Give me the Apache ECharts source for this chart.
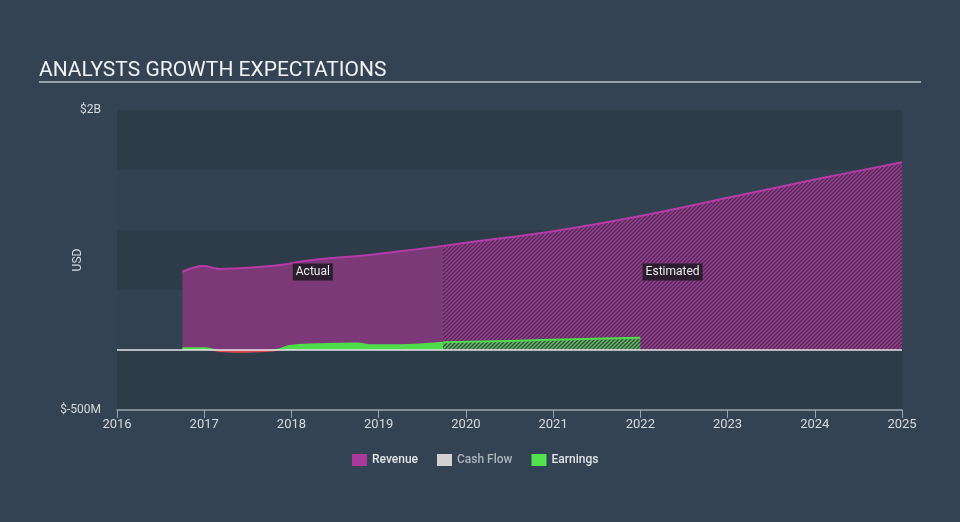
<!DOCTYPE html>
<html>
<head>
<meta charset="utf-8">
<script src="https://cdn.jsdelivr.net/npm/echarts@6/dist/echarts.min.js"></script>
<style>
html,body{margin:0;padding:0;background:#344353;}
#c{width:960px;height:522px;}
</style>
</head>
<body>
<div id="c"></div>
<script>
// ---- data ----
const titleText = 'ANALYSTS GROWTH EXPECTATIONS';
const legendNames = ['Revenue', 'Cash Flow', 'Earnings'];
const revenueActual = [
  [2016.75, 0.652], [2016.99, 0.700], [2017.18, 0.676], [2017.52, 0.686],
  [2017.87, 0.708], [2018.21, 0.748], [2018.86, 0.790], [2019.24, 0.822], [2019.74, 0.867]
];
const revenueEstimated = [
  [2019.74, 0.867], [2020.0, 0.893], [2021.0, 0.990], [2022.0, 1.117],
  [2023.0, 1.268], [2024.0, 1.420], [2025.0, 1.565]
];
const earningsActual = [
  [2016.75, 0.014], [2017.0, 0.014], [2017.18, -0.008], [2017.41, -0.014],
  [2017.71, -0.008], [2017.83, 0.0], [2017.98, 0.033], [2018.29, 0.047],
  [2018.75, 0.055], [2018.93, 0.039], [2019.24, 0.040], [2019.74, 0.061]
];
const earningsEstimated = [
  [2019.74, 0.064], [2020.5, 0.076], [2021.25, 0.089], [2022.0, 0.103]
];
const cashFlow = [];
const yearMin = 2016, yearMax = 2025;
const usdMin = -0.5, usdMax = 2;
const tickLabels = {'2': '$2B', '-0.5': '$-500M'};

// ---- patterns ----
function stripePattern(bg, fg) {
  const s = 4;
  const cv = document.createElement('canvas');
  cv.width = s; cv.height = s;
  const ctx = cv.getContext('2d');
  ctx.fillStyle = bg; ctx.fillRect(0, 0, s, s);
  ctx.strokeStyle = fg; ctx.lineWidth = 1.3;
  ctx.beginPath();
  ctx.moveTo(-1, s + 1); ctx.lineTo(s + 1, -1);
  ctx.moveTo(-1, 1); ctx.lineTo(1, -1);
  ctx.moveTo(s - 1, s + 1); ctx.lineTo(s + 1, s - 1);
  ctx.stroke();
  return {image: cv, repeat: 'repeat'};
}
const revPattern = stripePattern('#4d2d52', '#a23d99');
const earnPattern = stripePattern('#3b4b48', '#5fc65c');

const chart = echarts.init(document.getElementById('c'));
const revColor = '#b43ca6', revFill = '#7b3977';
const earnColor = '#4fdd4b', negColor = '#e2494c';

const option = {
  backgroundColor: '#344353',
  animation: false,
  textStyle: {fontFamily: 'Roboto'},
  title: {
    text: titleText, left: 34, top: 55,
    textStyle: {color: '#f0f2f4', fontSize: 21, fontWeight: 'normal', fontFamily: 'Roboto'}
  },
  graphic: [{
    type: 'line', shape: {x1: 39, y1: 82, x2: 921, y2: 82},
    style: {stroke: '#b9c0c7', lineWidth: 1.5}
  }],
  legend: {
    bottom: 51, left: 347, icon: 'rect', itemWidth: 15, itemHeight: 12, itemGap: 19,
    textStyle: {color: '#e2e5e8', fontSize: 12, fontWeight: 500},
    data: [
      {name: 'Revenue', itemStyle: {color: '#a93a9b'}},
      {name: 'Cash Flow', itemStyle: {color: '#d2d2d2'}, textStyle: {color: '#aeb5bd'}},
      {name: 'Earnings', itemStyle: {color: '#53e34f'}}
    ]
  },
  grid: {left: 117, right: 58, top: 110, bottom: 112},
  xAxis: {
    type: 'value', min: yearMin, max: yearMax, interval: 1,
    axisLine: {onZero: false, lineStyle: {color: '#9aa5b1', width: 1.5}},
    axisTick: {show: true, length: 8, lineStyle: {color: '#9aa5b1'}},
    axisLabel: {color: '#d6dadf', fontSize: 13, margin: 8, formatter: v => String(v)},
    splitLine: {show: false}
  },
  yAxis: {
    type: 'value', min: usdMin, max: usdMax, interval: 0.5,
    name: 'USD', nameLocation: 'middle', nameGap: 33, nameRotate: 90,
    nameMoveOverlap: false,
    nameTextStyle: {color: '#d6dadf', fontSize: 12},
    axisLine: {show: false}, axisTick: {show: false},
    axisLabel: {color: '#d6dadf', fontSize: 12, margin: 16,
      formatter: v => tickLabels[String(v)] || ''},
    splitLine: {show: false},
    splitArea: {show: true, areaStyle: {color: ['#2e3b49', '#334251']}}
  },
  series: [
    {
      name: 'Cash Flow', type: 'line', data: cashFlow, z: 1,
      itemStyle: {color: '#d2d2d2'}
    },
    {
      name: 'Revenue', type: 'line', data: revenueActual, smooth: 0.4, symbol: 'none', z: 2,
      lineStyle: {color: revColor, width: 2},
      itemStyle: {color: revColor},
      areaStyle: {color: revFill, opacity: 1},
      markLine: {
        silent: true, symbol: 'none', label: {show: false},
        lineStyle: {color: '#e4e6e8', width: 1.5, type: 'solid'},
        data: [{yAxis: 0}]
      },
      markPoint: {
        silent: true, symbol: 'rect', symbolSize: 1, itemStyle: {color: 'transparent'},
        label: {show: true, position: 'inside', color: '#eceef0', fontSize: 12,
          backgroundColor: '#2b1e2e', padding: [3, 3, 2, 3]},
        data: [
          {coord: [(revenueActual[0][0] + revenueActual[revenueActual.length - 1][0]) / 2, 0.65], label: {formatter: 'Actual'}},
          {coord: [(revenueEstimated[0][0] + revenueEstimated[revenueEstimated.length - 1][0]) / 2, 0.65], label: {formatter: 'Estimated'}}
        ]
      }
    },
    {
      name: 'Revenue', type: 'line', data: revenueEstimated, smooth: 0.4, symbol: 'none', z: 2,
      lineStyle: {color: revColor, width: 2},
      itemStyle: {color: revColor},
      areaStyle: {color: revPattern, opacity: 1}
    },
    {
      name: 'Earnings', type: 'line', data: earningsActual, smooth: 0.4, symbol: 'none', z: 3,
      lineStyle: {color: earnColor, width: 2},
      itemStyle: {color: earnColor},
      areaStyle: {color: earnColor, opacity: 1}
    },
    {
      name: 'Earnings', type: 'line', data: earningsEstimated, smooth: 0.3, symbol: 'none', z: 3,
      lineStyle: {color: earnColor, width: 2},
      itemStyle: {color: earnColor},
      areaStyle: {color: earnPattern, opacity: 1}
    }
  ]
};
chart.setOption(option);

// split earnings colour at the zero line (negative = red)
const zeroY = chart.convertToPixel({gridIndex: 0}, [yearMin, 0])[1];
function splitGrad() {
  return new echarts.graphic.LinearGradient(0, zeroY - 2, 0, zeroY + 2, [
    {offset: 0, color: earnColor}, {offset: 0.5, color: earnColor},
    {offset: 0.5, color: negColor}, {offset: 1, color: negColor}
  ], true);
}
chart.setOption({
  series: [{}, {}, {}, {
    lineStyle: {color: splitGrad()},
    areaStyle: {color: splitGrad(), opacity: 1}
  }, {}]
});
</script>
</body>
</html>
